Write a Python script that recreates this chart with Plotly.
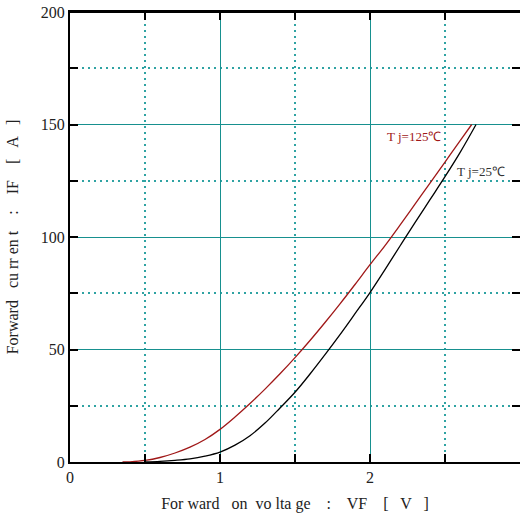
import plotly.graph_objects as go

# Tj = 125 °C (red)
vf_125 = [0.35, 0.4, 0.5, 0.6, 0.7, 0.8, 0.9, 1.0, 1.1, 1.2, 1.3, 1.4, 1.5, 1.6, 1.7, 1.8, 1.9, 2.0, 2.1, 2.2, 2.3, 2.4, 2.5, 2.6, 2.678]
if_125 = [0.0, 0.1, 0.7, 2.0, 4.0, 6.6, 10.0, 14.5, 20.0, 26.0, 32.4, 39.2, 46.4, 54.0, 62.0, 70.3, 78.9, 87.7, 96.2, 105.3, 114.6, 123.9, 133.3, 142.7, 150.0]

# Tj = 25 °C (black)
vf_25 = [0.5, 0.6, 0.7, 0.8, 0.9, 1.0, 1.1, 1.2, 1.3, 1.4, 1.5, 1.6, 1.7, 1.8, 1.9, 2.0, 2.1, 2.2, 2.3, 2.4, 2.5, 2.6, 2.707]
if_25 = [0.0, 0.3, 0.75, 1.4, 2.6, 4.4, 7.5, 11.7, 17.3, 24.0, 31.0, 39.1, 47.7, 56.6, 65.9, 75.3, 85.5, 96.0, 106.4, 116.6, 126.8, 137.5, 150.0]

x_range = [0, 3]
y_range = [0, 200]
x_major_step = 1
y_major_step = 50

label_125 = "T j=125℃"
label_25 = "T j=25℃"
x_title = "For ward   on  vo lta ge    :    VF    [   V   ]"
y_title = "Forward   cu rr en t    :    IF    [   A   ]"

TEAL = "#17908f"
TEAL_DOT = "#2fa3a3"
FONT = "Liberation Serif"

fig = go.Figure()
fig.add_trace(go.Scatter(x=vf_125, y=if_125, mode="lines",
                         line=dict(color="#a01818", width=1.3, shape="spline", smoothing=1.0), showlegend=False))
fig.add_trace(go.Scatter(x=vf_25, y=if_25, mode="lines",
                         line=dict(color="#000000", width=1.3, shape="spline", smoothing=1.0), showlegend=False))

fig.add_annotation(x=2.293, y=144.6, text=label_125, showarrow=False, font=dict(family=FONT, size=13, color="#a01818"))
fig.add_annotation(x=2.74, y=129, text=label_25, showarrow=False, font=dict(family=FONT, size=13, color="#333333"))

# top frame line of the plot area
fig.add_shape(type="line", xref="paper", yref="paper", x0=0, x1=1, y0=1, y1=1,
              line=dict(color="black", width=2), layer="above")

common = dict(
    showline=True, linecolor="black", linewidth=2, mirror="ticks",
    ticks="inside", ticklen=8, tickcolor="black", tickwidth=1.5,
    showgrid=True, gridcolor=TEAL, gridwidth=1.3,
    zeroline=False, automargin=False, tick0=0,
    tickfont=dict(family=FONT, size=16, color="#222"),
)

fig.update_xaxes(
    range=x_range, dtick=x_major_step,
    minor=dict(dtick=x_major_step / 2, ticks="inside", ticklen=8, tickcolor="black", tickwidth=1.5,
               showgrid=True, gridcolor=TEAL_DOT, gridwidth=1.5, griddash="2px,4px"),
    title=dict(text=x_title, font=dict(family=FONT, size=16, color="#222"), standoff=13),
    **common,
)
fig.update_yaxes(
    range=y_range, dtick=y_major_step,
    minor=dict(dtick=y_major_step / 2, ticks="inside", ticklen=8, tickcolor="black", tickwidth=1.5,
               showgrid=True, gridcolor=TEAL_DOT, gridwidth=1.5, griddash="2px,4px"),
    title=dict(text=y_title, font=dict(family=FONT, size=16, color="#222"), standoff=18),
    **common,
)

fig.update_layout(
    width=520, height=519,
    margin=dict(l=70, r=0, t=12, b=57),
    plot_bgcolor="white", paper_bgcolor="white",
)

# remove the browser's default 8px body margin so the figure sits at the page origin
fig.write_html(
    "out.html",
    config={"displayModeBar": False},
    post_script="document.body.style.margin='0';document.documentElement.style.overflow='hidden';",
)
